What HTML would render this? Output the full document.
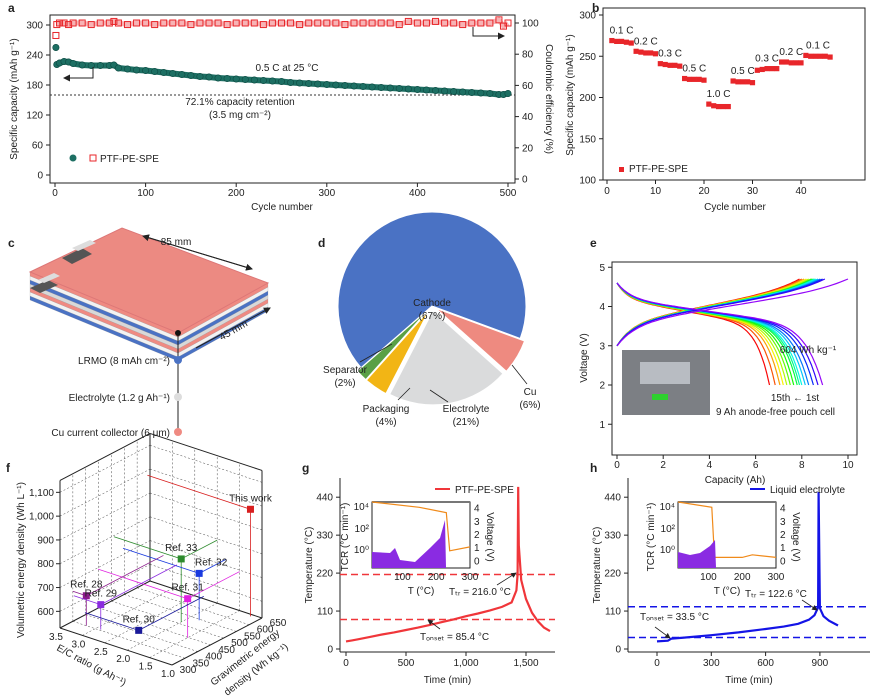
<!DOCTYPE html>
<html><head><meta charset="utf-8">
<style>
html,body{margin:0;background:#fff;overflow:hidden;width:878px;height:697px;}
svg{display:block;font-family:"Liberation Sans",Arial,sans-serif;overflow:hidden;}
text{fill:#222;}
</style></head>
<body>
<svg id="fig" width="878" height="697" viewBox="0 0 878 697" xmlns="http://www.w3.org/2000/svg">
<defs>
<marker id="ar" markerWidth="7" markerHeight="7" refX="6" refY="3.5" orient="auto"><path d="M0,0L7,3.5L0,7z" fill="#222"/></marker>
</defs>
<g id="g-a"></g>
<g id="g-b"></g>
<g id="g-c"></g>
<g id="g-d"></g>
<g id="g-e"></g>
<g id="g-f"></g>
<g id="g-g"></g>
<g id="g-h"></g>
</svg>
<script>
// ---------- data ----------
const aCycles=[1,2,5,10,15,20,30,40,50,60,65,70,80,90,100,110,120,130,140,150,160,170,180,190,200,210,220,230,240,250,260,270,280,290,300,310,320,330,340,350,360,370,380,390,400,410,420,430,440,450,460,470,480,490,495,500];
const aCapacity=[255,221,224,227,226,223,220,219,219,219,220,214,212,210,209,207,205,203,201,199,197,196,194,193,192,191,190,189,188,187,185,184,183,182,181,180,179,178,177,176,175,174,173,172,171,170,169,168,167,166,165,164,163,161,161,163];
const aCE=[92,99,100,100,99,100,100,99,100,100,101,100,99,100,100,99,100,100,100,99,100,100,100,99,100,100,100,99,100,100,100,99,100,100,100,100,99,100,100,100,100,100,99,101,100,100,101,100,100,99,100,100,100,102,98,100];
const bRates=["0.1 C","0.2 C","0.3 C","0.5 C","1.0 C","0.5 C","0.3 C","0.2 C","0.1 C"];
const bCapacity=[[269,268,268,267,266],[256,255,254,254,253],[241,240,239,239,238],[223,222,222,222,221],[192,190,189,189,189],[220,219,219,219,218],[233,234,235,235,235],[243,243,242,242,242],[251,250,250,250,250,249]];
const pieLabels=["Cathode","Cu","Electrolyte","Packaging","Separator"];
const pieValues=[67,6,21,4,2];
const pieColors=["#4a72c4","#ee8a80","#dadbdc","#f2b515","#5aa046"];
const eChargeCap=[10.0,9.0,8.9,8.8,8.7,8.6,8.55,8.5,8.45,8.4,8.3,8.2,8.1,8.0,7.9];
const eDischargeCap=[8.9,8.7,8.5,8.3,8.15,8.0,7.9,7.8,7.65,7.5,7.35,7.2,7.05,6.85,6.6];
const fLabels=["This work","Ref. 33","Ref. 32","Ref. 31","Ref. 28","Ref. 29","Ref. 30"];
const fEC=[1.2,2.0,1.8,1.5,3.2,2.9,2.3];
const fGrav=[640,510,545,448,350,354,397];
const fVol=[980,795,727,694,656,635,540];
const fColors=["#d81e1e","#2e8b2e","#1a3adf","#e020e0","#8a1a8a","#8a2adf","#1a1a9a"];
const gTime=[0,50,100,200,300,400,500,600,700,800,900,1000,1100,1200,1300,1380,1420,1430,1435,1440,1460,1500,1550,1600,1650,1700];
const gTemp=[22,25,28,35,42,48,55,62,70,78,86,95,103,112,122,135,170,216,470,300,200,145,105,80,62,52];
const hTime=[0,60,80,150,300,450,600,700,780,840,870,885,890,893,900,920,950,1000];
const hTemp=[22,24,30,33,40,48,58,65,73,85,98,115,122,455,118,95,82,68];

// ---------- helpers ----------
const NS="http://www.w3.org/2000/svg";
function el(p,tag,at,txt){const e=document.createElementNS(NS,tag);for(const k in at)e.setAttribute(k,at[k]);if(txt!==undefined)e.textContent=txt;p.appendChild(e);return e;}
function txt(p,x,y,s,o){o=o||{};const e=el(p,"text",Object.assign({x:x,y:y,"font-size":o.fs||10,"text-anchor":o.a||"middle"},o.at||{}),s);

return e;}
function line(p,x1,y1,x2,y2,st,w,da){const e=el(p,"line",{x1:x1,y1:y1,x2:x2,y2:y2,stroke:st||"#222","stroke-width":w||1});if(da)e.setAttribute("stroke-dasharray",da);return e;}
function pathD(pts){return pts.map((q,i)=>(i?"L":"M")+q[0].toFixed(1)+","+q[1].toFixed(1)).join("");}

// ---------- panel a ----------
(function(){
const g=document.getElementById("g-a");
const X=v=>55+v*(508-55)/500, Y=v=>175-v*0.5, Y2=v=>179-v*1.56;
txt(g,8,12,"a",{fs:12,a:"start",at:{"font-weight":"bold"},n:"panel-label-a"});
el(g,"rect",{x:50,y:15,width:465,height:168,fill:"none",stroke:"#222"});
[0,60,120,180,240,300].forEach(v=>{line(g,50,Y(v),46,Y(v));txt(g,43,Y(v)+3.5,String(v),{a:"end",n:"y-tick-label"});});
[0,20,40,60,80,100].forEach(v=>{line(g,515,Y2(v),519,Y2(v));txt(g,522,Y2(v)+3.5,String(v),{a:"start",n:"y2-tick-label"});});
[0,100,200,300,400,500].forEach(v=>{line(g,X(v),183,X(v),187);txt(g,X(v),196,String(v),{n:"x-tick-label"});});
txt(g,282,210,"Cycle number",{n:"x-axis-title"});
txt(g,17,99,"Specific capacity (mAh g\u207B\u00B9)",{at:{transform:"rotate(-90 17 99)"},n:"y-axis-title"});
txt(g,546,99,"Coulombic efficiency (%)",{at:{transform:"rotate(90 546 99)"},n:"y2-axis-title"});
line(g,50,Y(160),515,Y(160),"#333",1,"2,2");
const cp=el(g,"path",{d:pathD(aCycles.slice(1).map((c,i)=>[X(c),Y(aCapacity[i+1])])),fill:"none",stroke:"#1d6f63","stroke-width":6,"stroke-linejoin":"round"});


aCycles.forEach((c,i)=>{const e=el(g,"circle",{cx:X(c),cy:Y(aCapacity[i]),r:3.2,fill:"#1d6f63",stroke:"#0d4a42","stroke-width":0.6});

});
const ep=el(g,"path",{d:pathD(aCycles.slice(1).map((c,i)=>[X(c),Y2(aCE[i+1])])),fill:"none",stroke:"#e8262a","stroke-width":5,"stroke-opacity":0.35});


aCycles.forEach((c,i)=>{const e=el(g,"rect",{x:X(c)-3,y:Y2(aCE[i])-3,width:6,height:6,fill:"none",stroke:"#e8262a","stroke-width":1});

});
txt(g,287,71,"0.5 C at 25 \u00B0C",{n:"condition-label"});
txt(g,240,105,"72.1% capacity retention",{n:"retention-label"});
txt(g,240,118,"(3.5 mg cm\u207B\u00B2)",{n:"loading-label"});
el(g,"path",{d:"M93,67L93,78L64,78",fill:"none",stroke:"#222","marker-end":"url(#ar)"});
el(g,"path",{d:"M473,27L473,36L504,36",fill:"none",stroke:"#222","marker-end":"url(#ar)"});
el(g,"circle",{cx:73,cy:158,r:3.5,fill:"#1d6f63"});
el(g,"rect",{x:90,y:155,width:6,height:6,fill:"none",stroke:"#e8262a"});
txt(g,100,162,"PTF-PE-SPE",{a:"start",n:"legend-entry"});
})();

// ---------- panel b ----------
(function(){
const g=document.getElementById("g-b");
const X=v=>607+v*4.85, Y=v=>180-(v-100)*0.825;
txt(g,592,12,"b",{fs:12,a:"start",at:{"font-weight":"bold"},n:"panel-label-b"});
el(g,"rect",{x:603,y:8,width:262,height:172,fill:"none",stroke:"#222"});
[100,150,200,250,300].forEach(v=>{line(g,603,Y(v),599,Y(v));txt(g,596,Y(v)+3.5,String(v),{a:"end",n:"y-tick-label"});});
[0,10,20,30,40].forEach(v=>{line(g,X(v),180,X(v),184);txt(g,X(v),194,String(v),{n:"x-tick-label"});});
txt(g,735,210,"Cycle number",{n:"x-axis-title"});
txt(g,573,95,"Specific capacity (mAh g\u207B\u00B9)",{at:{transform:"rotate(-90 573 95)"},n:"y-axis-title"});
let c=1;
bCapacity.forEach((arr,k)=>{const c0=c;arr.forEach(v=>{const e=el(g,"rect",{x:X(c)-2.6,y:Y(v)-2.6,width:5.2,height:5.2,fill:"#e8262a"});

c++;});
const mid=(c0+c-1)/2;txt(g,X(mid),Y(Math.max(...arr))-7,bRates[k],{n:"rate-label"});});
el(g,"rect",{x:619,y:167,width:5,height:5,fill:"#e8262a"});
txt(g,629,172,"PTF-PE-SPE",{a:"start",n:"legend-entry"});
})();

// ---------- panel c ----------
(function(){
const g=document.getElementById("g-c");
txt(g,8,247,"c",{fs:12,a:"start",at:{"font-weight":"bold"},n:"panel-label-c"});
const tl=[30,272],tb=[122,228],tr=[268,283],tf=[178,333];
const layers=["#ef8a82","#f2f2f2","#4a72c4","#d8d8d8","#ef8a82","#f2f2f2","#4a72c4"];
const h=4;
for(let i=layers.length-1;i>=0;i--){const d=i*h;
el(g,"polygon",{points:`${tl[0]},${tl[1]+d} ${tf[0]},${tf[1]+d} ${tf[0]},${tf[1]+d+h} ${tl[0]},${tl[1]+d+h}`,fill:layers[i],stroke:"#888","stroke-width":0.2});
el(g,"polygon",{points:`${tf[0]},${tf[1]+d} ${tr[0]},${tr[1]+d} ${tr[0]},${tr[1]+d+h} ${tf[0]},${tf[1]+d+h}`,fill:layers[i],stroke:"#888","stroke-width":0.2});}
el(g,"polygon",{points:`${tl[0]},${tl[1]} ${tb[0]},${tb[1]} ${tr[0]},${tr[1]} ${tf[0]},${tf[1]}`,fill:"#ec8a82",stroke:"#d77"});
el(g,"polygon",{points:"62,258 82,248 92,254 72,264",fill:"#555"});
el(g,"polygon",{points:"72,248 90,240 96,243 78,251",fill:"#ddd"});
el(g,"polygon",{points:"30,288 48,280 58,285 40,293",fill:"#555"});
el(g,"polygon",{points:"38,280 54,273 60,276 44,283",fill:"#ddd"});
line(g,143,236,252,269).setAttribute("marker-end","url(#ar)");
line(g,252,269,143,236).setAttribute("marker-end","url(#ar)");
txt(g,176,245,"85 mm",{n:"length-label"});
line(g,196,348,270,308).setAttribute("marker-end","url(#ar)");
txt(g,235,333,"45 mm",{at:{transform:"rotate(-30 235 333)"},n:"width-label"});
line(g,178,333,178,432,"#222",1);
el(g,"circle",{cx:178,cy:333,r:3,fill:"#111"});
[["LRMO (8 mAh cm\u207B\u00B2)",360,"#4a72c4"],["Electrolyte (1.2 g Ah\u207B\u00B9)",397,"#ddd"],["Cu current collector (6 \u03BCm)",432,"#ef8a82"]].forEach(r=>{
el(g,"circle",{cx:178,cy:r[1],r:4,fill:r[2]});txt(g,170,r[1]+4,r[0],{a:"end",n:"layer-label"});});
})();

// ---------- panel d ----------
(function(){
const g=document.getElementById("g-d");
txt(g,318,247,"d",{fs:12,a:"start",at:{"font-weight":"bold"},n:"panel-label-d"});
const cx=432,cy=306,r=94;const tot=pieValues.reduce((a,b)=>a+b,0);
let a0=139;
pieValues.forEach((v,i)=>{
 const s=a0,e=a0+v/tot*360;a0=e;
 const mid=(s+e)/2*Math.PI/180, off=i===0?0:5;
 const ox=cx+off*Math.cos(mid), oy=cy+off*Math.sin(mid);
 const p1=[ox+r*Math.cos(s*Math.PI/180),oy+r*Math.sin(s*Math.PI/180)],p2=[ox+r*Math.cos(e*Math.PI/180),oy+r*Math.sin(e*Math.PI/180)];
 const large=(e-s)>180?1:0;
 const p=el(g,"path",{d:`M${ox},${oy}L${p1[0]},${p1[1]}A${r},${r} 0 ${large} 1 ${p2[0]},${p2[1]}Z`,fill:pieColors[i],stroke:"#fff","stroke-width":1});
 
 
});
txt(g,432,306,"Cathode",{n:"slice-label"});txt(g,432,319,"(67%)",{n:"slice-value"});
txt(g,345,373,"Separator",{n:"slice-label"});txt(g,345,386,"(2%)",{n:"slice-value"});
line(g,360,362,392,344,"#222",0.8);
txt(g,386,412,"Packaging",{n:"slice-label"});txt(g,386,425,"(4%)",{n:"slice-value"});
line(g,398,400,410,388,"#222",0.8);
txt(g,466,412,"Electrolyte",{n:"slice-label"});txt(g,466,425,"(21%)",{n:"slice-value"});
line(g,448,402,430,390,"#222",0.8);
txt(g,530,395,"Cu",{n:"slice-label"});txt(g,530,408,"(6%)",{n:"slice-value"});
line(g,527,384,512,365,"#222",0.8);
})();

// ---------- panel e ----------
(function(){
const g=document.getElementById("g-e");
const X=v=>617+v*23.1, Y=v=>463.5-v*39.25;
txt(g,590,247,"e",{fs:12,a:"start",at:{"font-weight":"bold"},n:"panel-label-e"});
el(g,"rect",{x:612,y:262,width:245,height:193,fill:"none",stroke:"#222"});
[1,2,3,4,5].forEach(v=>{line(g,612,Y(v),608,Y(v));txt(g,605,Y(v)+3.5,String(v),{a:"end",n:"y-tick-label"});});
[0,2,4,6,8,10].forEach(v=>{line(g,X(v),455,X(v),459);txt(g,X(v),468,String(v),{n:"x-tick-label"});});
txt(g,735,483,"Capacity (Ah)",{n:"x-axis-title"});
txt(g,587,358,"Voltage (V)",{at:{transform:"rotate(-90 587 358)"},n:"y-axis-title"});
const N=eChargeCap.length;
for(let i=N-1;i>=0;i--){
 const hue=i===0?275:270-(i/(N-1))*270;const col=`hsl(${hue},95%,50%)`;
 const ch=[],dc=[];
 for(let k=0;k<=60;k++){const f=k/60;
  ch.push([X(f*eChargeCap[i]),Y(3.0+0.55*(1-Math.exp(-f*12))+0.95*f+0.2*Math.pow(f,8))]);
  dc.push([X(f*eDischargeCap[i]),Y(4.6-0.4*(1-Math.exp(-f*15))-0.72*f-1.48*Math.pow(f,12))]);}
 const p1=el(g,"path",{d:pathD(ch),fill:"none",stroke:col,"stroke-width":1.2});
 
 
 const p2=el(g,"path",{d:pathD(dc),fill:"none",stroke:col,"stroke-width":1.2});
 
 
}
txt(g,808,353,"604 Wh kg\u207B\u00B9",{n:"energy-label"});
txt(g,795,401,"15th \u2190 1st",{n:"cycle-label"});
el(g,"rect",{x:622,y:350,width:88,height:65,fill:"#7c7f84"});
el(g,"rect",{x:640,y:362,width:50,height:22,fill:"#b8bcc2"});
el(g,"rect",{x:652,y:394,width:16,height:6,fill:"#2ed12e"});
txt(g,716,415,"9 Ah anode-free pouch cell",{a:"start",n:"photo-caption"});
})();

// ---------- panel f ----------
(function(){
const g=document.getElementById("g-f");
txt(g,6,472,"f",{fs:12,a:"start",at:{"font-weight":"bold"},n:"panel-label-f"});
const P=(ec,gr,v)=>[60+(ec-3.5)/(-2.5)*112+(gr-300)/350*90,628+(ec-3.5)/(-2.5)*37-(gr-300)/350*47-(v-530)*0.238];
const vTop=1150;
const L=(a,b,c,w,d)=>line(g,a[0],a[1],b[0],b[1],c||"#222",w||1,d);
[600,700,800,900,1000,1100].forEach(v=>{L(P(3.5,300,v),P(3.5,650,v),"#444",0.5,"2,2");L(P(3.5,650,v),P(1,650,v),"#444",0.5,"2,2");});
[350,400,450,500,550,600].forEach(gr=>{L(P(3.5,gr,530),P(3.5,gr,vTop),"#444",0.5,"2,2");L(P(3.5,gr,530),P(1,gr,530),"#444",0.5,"2,2");});
[3.0,2.5,2.0,1.5].forEach(ec=>{L(P(ec,650,530),P(ec,650,vTop),"#444",0.5,"2,2");L(P(ec,300,530),P(ec,650,530),"#444",0.5,"2,2");});
L(P(3.5,300,530),P(1,300,530));L(P(1,300,530),P(1,650,530));L(P(1,650,530),P(3.5,650,530));L(P(3.5,650,530),P(3.5,300,530));
L(P(3.5,300,530),P(3.5,300,vTop));L(P(3.5,650,530),P(3.5,650,vTop));L(P(1,650,530),P(1,650,vTop));
L(P(3.5,300,vTop),P(3.5,650,vTop));L(P(3.5,650,vTop),P(1,650,vTop));
[600,700,800,900,1000,1100].forEach(v=>{const q=P(3.5,300,v);L(q,[q[0]-4,q[1]]);txt(g,q[0]-6,q[1]+3.5,v>=1000?(v/1000).toFixed(3).replace(".",","):String(v),{a:"end",n:"z-tick-label"});});
[3.5,3.0,2.5,2.0,1.5,1.0].forEach(ec=>{const q=P(ec,300,530);txt(g,q[0]-4,q[1]+12,ec.toFixed(1),{n:"x-tick-label"});});
[300,350,400,450,500,550,600,650].forEach(gr=>{const q=P(1,gr,530);txt(g,q[0]+16,q[1]+8,String(gr),{n:"y-tick-label"});});
txt(g,24,560,"Volumetric energy density (Wh L\u207B\u00B9)",{at:{transform:"rotate(-90 24 560)"},n:"z-axis-title"});
txt(g,90,668,"E/C ratio (g Ah\u207B\u00B9)",{at:{transform:"rotate(28 90 668)"},n:"x-axis-title"});
txt(g,247,660,"Gravimetric energy",{at:{transform:"rotate(-38 247 660)"},n:"y-axis-title"});
txt(g,258,672,"density (Wh kg\u207B\u00B9)",{at:{transform:"rotate(-38 258 672)"},n:"y-axis-title"});
fLabels.forEach((lb,i)=>{const p=P(fEC[i],fGrav[i],fVol[i]);const c=fColors[i];
 L(p,P(fEC[i],fGrav[i],530),c,0.8);L(p,P(3.5,fGrav[i],fVol[i]),c,0.8);L(p,P(fEC[i],650,fVol[i]),c,0.8);
 const r=el(g,"rect",{x:p[0]-3.5,y:p[1]-3.5,width:7,height:7,fill:c});
 
 
 txt(g,p[0]+(i===2?12:0),p[1]-8,lb,{n:"point-label"});});
})();

// ---------- panels g & h ----------
function thermal(id,letter,X,tTicks,tLab,times,temps,col,leg,x0,x1,dash,ann){
const g=document.getElementById(id);
const Y=v=>649-v*0.345;
txt(g,x0-38,472,letter,{fs:12,a:"start",at:{"font-weight":"bold"},n:"panel-label-"+letter});
line(g,x0,478,x0,652);line(g,x0,652,x1,652);
[0,110,220,330,440].forEach(v=>{line(g,x0,Y(v),x0-4,Y(v));txt(g,x0-7,Y(v)+3.5,String(v),{a:"end",n:"y-tick-label"});});
tTicks.forEach((v,i)=>{line(g,X(v),652,X(v),656);txt(g,X(v),666,tLab[i],{n:"x-tick-label"});});
txt(g,(x0+x1)/2,683,"Time (min)",{n:"x-axis-title"});
txt(g,x0-28,565,"Temperature (\u00B0C)",{at:{transform:"rotate(-90 "+(x0-28)+" 565)"},n:"y-axis-title"});
dash.forEach(v=>line(g,x0,Y(v),x1,Y(v),col,1.5,"7,4"));
const p=el(g,"path",{d:pathD(times.map((t,i)=>[X(t),Y(temps[i])])),fill:"none",stroke:col,"stroke-width":2.2});


line(g,x1-120,489,x1-105,489,col,2);txt(g,x1-100,493,leg,{a:"start",n:"legend-entry"});
ann.forEach(a=>{line(g,a[3],a[4],a[5],a[6],"#222",0.8).setAttribute("marker-end","url(#ar)");txt(g,a[0],a[1],a[2],{a:"start",n:"annotation"});});
return g;}
function inset(g,ix,volt,dots){
const w=98,h=66,y0=502;
const iX=T=>ix+(T-10)/290*w, iV=v=>y0+h-(v+0.5)*h/5;
el(g,"rect",{x:ix,y:y0,width:w,height:h,fill:"#fff",stroke:"#222"});
line(g,ix,y0,ix+w,y0,"#777",2);
el(g,"path",{d:pathD(volt.map(q=>[iX(q[0]),iV(q[1])])),fill:"none",stroke:"#f08a1a","stroke-width":1.2});
el(g,"polygon",{points:dots,fill:"#8a2be2"});
[100,200,300].forEach(v=>txt(g,iX(v),y0+h+12,String(v),{n:"inset-x-tick"}));
txt(g,ix+w/2,y0+h+26,"T (\u00B0C)",{n:"inset-x-title"});
[["10\u2074",y0+8],["10\u00B2",y0+30],["10\u2070",y0+51]].forEach(r=>txt(g,ix-3,r[1],r[0],{a:"end",n:"inset-y-tick"}));
[0,1,2,3,4].forEach(v=>txt(g,ix+w+4,iV(v)+3,String(v),{a:"start",n:"inset-y2-tick"}));
txt(g,ix-24,y0+35,"TCR (\u00B0C min\u207B\u00B9)",{at:{transform:"rotate(-90 "+(ix-24)+" "+(y0+35)+")"},n:"inset-y-title"});
txt(g,ix+w+17,y0+35,"Voltage (V)",{at:{transform:"rotate(90 "+(ix+w+17)+" "+(y0+35)+")"},n:"inset-y2-title"});
}
(function(){
const Xg=t=>346+t*0.12;
const g=thermal("g-g","g",Xg,[0,500,1000,1500],["0","500","1,000","1,500"],gTime,gTemp,"#f0363a","PTF-PE-SPE",340,555,[216,85.4],
 [[420,640,"T\u2092\u2099\u209B\u2091\u209C = 85.4 \u00B0C",440,629,428,620],[449,595,"T\u209C\u1D63 = 216.0 \u00B0C",497,585,516,573]]);
inset(g,372,[[10,4.5],[150,4.1],[230,3.7],[240,0.8],[300,1.1]],"372,568 372,552 390,553 395,548 400,560 415,562 430,548 440,538 445,520 446,568");
})();
(function(){
const Xh=t=>657+t*0.181;
const g=thermal("g-h","h",Xh,[0,300,600,900],["0","300","600","900"],hTime,hTemp,"#1414e6","Liquid electrolyte",628,870,[122.6,33.5],
 [[640,620,"T\u2092\u2099\u209B\u2091\u209C = 33.5 \u00B0C",655,627,670,638],[745,597,"T\u209C\u1D63 = 122.6 \u00B0C",802,600,817,610]]);
inset(g,678,[[10,4.5],[110,4.1],[118,0.3],[200,0.3],[230,0.5],[300,0.3]],"678,568 678,552 690,555 700,553 710,546 715,540 716,568");
})();
</script>
</body></html>
